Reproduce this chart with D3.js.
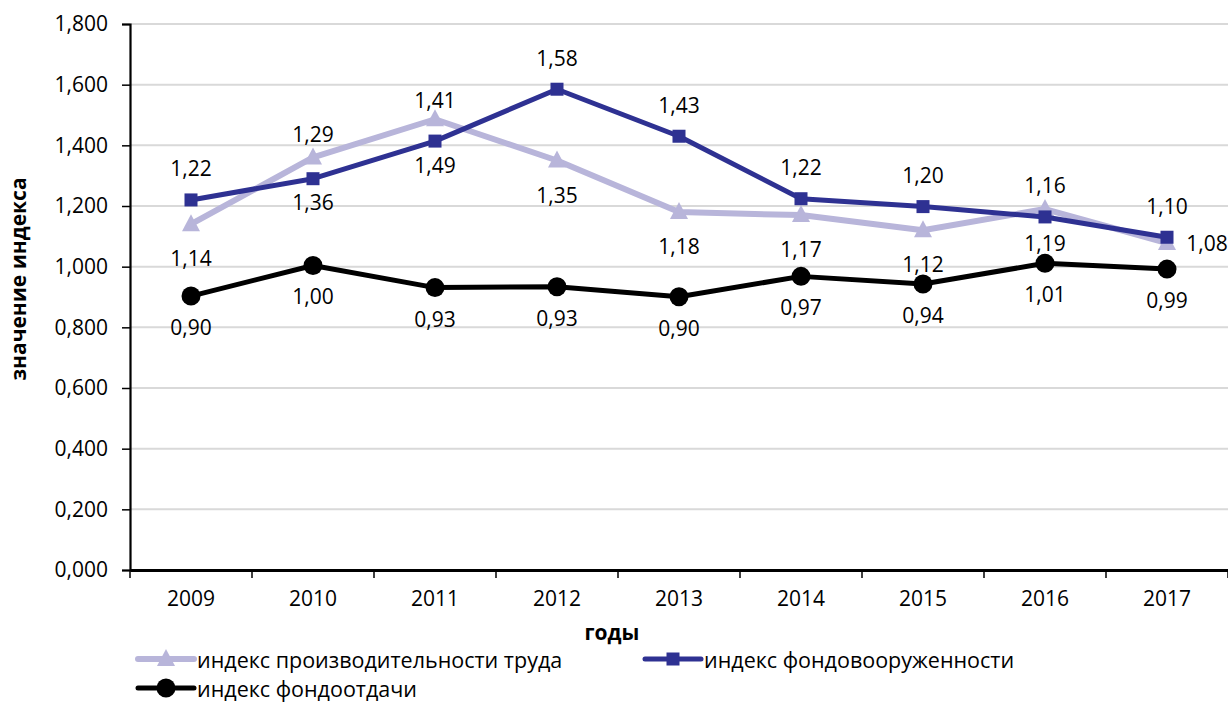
<!DOCTYPE html>
<html><head><meta charset="utf-8">
<script src="https://cdn.jsdelivr.net/npm/d3@7"></script>
<style>
html,body{margin:0;padding:0;background:#fff;}
svg{display:block;font-family:"Open Sans",sans-serif;}
</style></head>
<body>
<svg id="chart" width="1228" height="704"></svg>
<script>
// ---- data ----
const years = ["2009","2010","2011","2012","2013","2014","2015","2016","2017"];
const labourProductivity = [1.14, 1.36, 1.486, 1.35, 1.18, 1.17, 1.12, 1.19, 1.078];
const capitalLabourRatio = [1.22, 1.29, 1.414, 1.585, 1.43, 1.224, 1.198, 1.164, 1.097];
const capitalProductivity = [0.903, 1.004, 0.931, 0.934, 0.901, 0.968, 0.943, 1.011, 0.992];
const yTicks = [0, 0.2, 0.4, 0.6, 0.8, 1.0, 1.2, 1.4, 1.6, 1.8];
const seriesNames = ["индекс производительности труда", "индекс фондовооруженности", "индекс фондоотдачи"];

(function () {
// ---- style / layout ----
const svg = d3.select("#chart");
const pL = 130, pR = 1228, pT = 24, pB = 570;
const numSize = 21, legSize = 21.5, titleSize = 21;
const x = d3.scaleBand().domain(years).range([pL, pR]);
const y = d3.scaleLinear().domain([0, 1.8]).range([pB, pT]);
const fmt2 = v => d3.format(".2f")(v).replace(".", ",");
const fmt3 = v => d3.format(".3f")(v).replace(".", ",");

const series = [
  {name: seriesNames[0], values: labourProductivity, color: "#b8b5da", width: 6, marker: "triangle", labelDy: 34},
  {name: seriesNames[1], values: capitalLabourRatio, color: "#2e3192", width: 5, marker: "square", labelDy: -31.6},
  {name: seriesNames[2], values: capitalProductivity, color: "#000000", width: 5, marker: "circle", labelDy: 31}
];
// manual label nudges (label placement, not data)
const labelNudge = {
  "0-2010": {dy: 45}, "0-2011": {dy: 46}, "0-2017": {dx: 40, dy: 0},
  "1-2010": {dy: -45}, "1-2011": {dy: -41}
};

// gridlines
svg.append("g").selectAll("line").data(yTicks.filter(t => t > 0)).join("line")
  .attr("x1", pL).attr("x2", pR)
  .attr("y1", d => y(d)).attr("y2", d => y(d))
  .attr("stroke", "#d9d9d9").attr("stroke-width", 2);

// y axis
const yAxis = d3.axisLeft(y).tickValues(yTicks).tickFormat(fmt3).tickSize(8).tickPadding(14);
const gy = svg.append("g").attr("transform", `translate(${pL},0)`).call(yAxis);
gy.select(".domain").attr("stroke", "#000").attr("stroke-width", 2.2);
gy.selectAll(".tick line").attr("stroke", "#000").attr("stroke-width", 1.5);
gy.selectAll(".tick text").attr("font-size", numSize).attr("fill", "#000")
  .attr("font-family", "Open Sans");

// x axis
const xAxis = d3.axisBottom(x).tickSize(0).tickPadding(21);
const gx = svg.append("g").attr("transform", `translate(0,${pB})`).call(xAxis);
gx.select(".domain").attr("stroke", "#000").attr("stroke-width", 3);
gx.selectAll(".tick text").attr("font-size", numSize).attr("fill", "#000").attr("font-family", "Open Sans");
// boundary ticks
const bounds = years.map(d => x(d)).concat([pR]);
svg.append("g").selectAll("line").data(bounds).join("line")
  .attr("x1", d => d).attr("x2", d => d)
  .attr("y1", pB).attr("y2", pB + 8)
  .attr("stroke", "#000").attr("stroke-width", 1.5);

// axis titles
svg.append("text").attr("x", 612).attr("y", 632).attr("text-anchor", "middle")
  .attr("dominant-baseline", "central").attr("font-weight", "bold").attr("font-size", titleSize)
  .text("годы");
svg.append("text").attr("transform", "translate(18,279) rotate(-90)").attr("text-anchor", "middle")
  .attr("dominant-baseline", "central").attr("font-weight", "bold").attr("font-size", titleSize)
  .text("значение индекса");

const cx = d => x(d) + x.bandwidth() / 2;
const line = d3.line().x((v, i) => cx(years[i])).y(v => y(v));

function drawMarker(g, type, color, px, py) {
  if (type === "square") {
    g.append("rect").attr("x", px - 6.5).attr("y", py - 6.5).attr("width", 13).attr("height", 13).attr("fill", color);
  } else if (type === "triangle") {
    g.append("path").attr("d", `M${px},${py - 10} L${px + 9},${py + 7} L${px - 9},${py + 7} Z`).attr("fill", color);
  } else {
    g.append("circle").attr("cx", px).attr("cy", py).attr("r", 9.5).attr("fill", color);
  }
}

series.forEach((s, si) => {
  const g = svg.append("g");
  g.append("path").attr("d", line(s.values)).attr("fill", "none")
    .attr("stroke", s.color).attr("stroke-width", s.width).attr("stroke-linejoin", "round");
  s.values.forEach((v, i) => drawMarker(g, s.marker, s.color, cx(years[i]), y(v)));
});

// data labels
series.forEach((s, si) => {
  svg.append("g").selectAll("text").data(s.values).join("text")
    .attr("x", (v, i) => cx(years[i]) + ((labelNudge[si + "-" + years[i]] || {}).dx || 0))
    .attr("y", (v, i) => {
      const n = labelNudge[si + "-" + years[i]];
      return y(v) + (n && n.dy !== undefined ? n.dy : s.labelDy);
    })
    .attr("text-anchor", "middle").attr("dominant-baseline", "central")
    .attr("font-size", numSize).attr("fill", "#000")
    .text(v => fmt2(v));
});

// legend
const legendItems = [
  {s: series[0], x: 138, y: 659},
  {s: series[1], x: 645, y: 659},
  {s: series[2], x: 138, y: 688}
];
legendItems.forEach(it => {
  const g = svg.append("g");
  g.append("line").attr("x1", it.x).attr("x2", it.x + 56).attr("y1", it.y).attr("y2", it.y)
    .attr("stroke", it.s.color).attr("stroke-width", it.s.width).attr("stroke-linecap", "round");
  drawMarker(g, it.s.marker, it.s.color, it.x + 28, it.y);
  g.append("text").attr("x", it.x + 59).attr("y", it.y).attr("dominant-baseline", "central")
    .attr("font-size", legSize).attr("fill", "#000").text(it.s.name);
});
})();
</script>
</body></html>
